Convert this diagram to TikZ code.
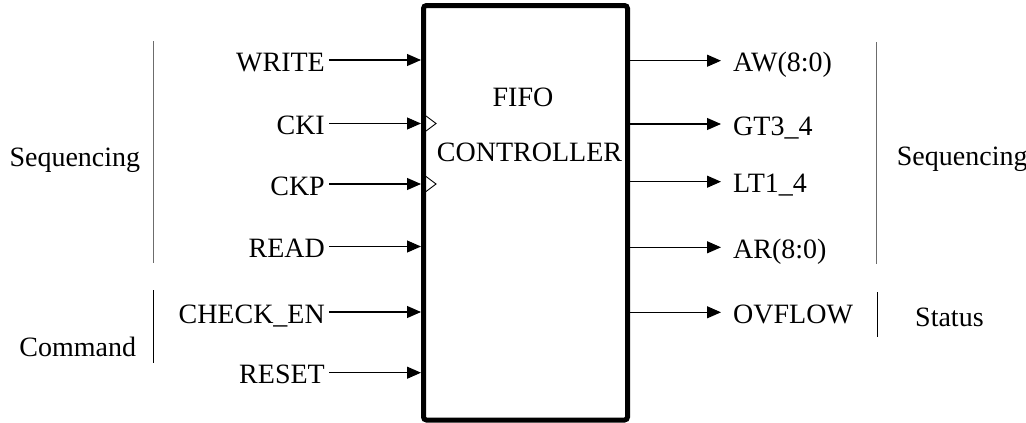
\documentclass[tikz,border=0pt]{standalone}
\usepackage{fontspec}
\setmainfont{Liberation Serif}
\usetikzlibrary{arrows.meta,calc}
\begin{document}
\begin{tikzpicture}[x=1pt,y=-1pt,
  every node/.style={font=\fontsize{28}{33}\selectfont},
  inlbl/.style={anchor=east, inner xsep=4pt, inner ysep=0pt, text height=22pt, text depth=0pt},
  outlbl/.style={anchor=west, inner xsep=0pt, inner ysep=0pt, text height=22pt, text depth=0pt},
  grplbl/.style={anchor=base west, inner sep=0pt},
  sig/.style={line width=1.1pt, -{Triangle[length=14pt,width=12pt]}},
  clk/.style={line width=0.9pt},
  brace/.style={line width=1pt},
  greybrace/.style={line width=1.4pt, gray!85!black}
]
\useasboundingbox (0,0) rectangle (1026,423);
% main box
\node[draw, line width=5pt, rounded corners=3pt, inner sep=0pt,
      minimum width=204pt, minimum height=414.5pt] (ctrl) at (525.5,212.75) {};
\node[anchor=base, inner sep=0pt] (fifo) at (523,106) {FIFO};
\node[anchor=base, inner sep=0pt] (ctrltxt) at (529.5,161.7) {CONTROLLER};

% inputs
\node[inlbl] (write) at (329,60) {WRITE};
\node[inlbl] (cki) at (329,123.5) {CKI};
\node[inlbl] (ckp) at (329,184) {CKP};
\node[inlbl] (read) at (329,246.5) {READ};
\node[inlbl] (chk) at (329,312) {CHECK\_EN};
\node[inlbl] (rst) at (329,372.7) {RESET};
\foreach \n in {write,cki,ckp,read,chk,rst}
  \draw[sig] (\n.east) -- (\n.east -| ctrl.west);

% clock markers
\foreach \n in {cki,ckp}
  \draw[clk] ($(ctrl.west |- \n.east)+(5,-7.5)$) -- ++(10,7.5) -- ++(-10,7.5);

% outputs
\node[outlbl] (aw) at (733,60.7) {AW(8:0)};
\node[outlbl] (gt) at (733,124) {GT3\_4};
\node[outlbl] (lt) at (733,181.7) {LT1\_4};
\node[outlbl] (ar) at (733,247.3) {AR(8:0)};
\node[outlbl] (ovf) at (733,312.3) {OVFLOW};
\foreach \n in {aw,gt,lt,ar,ovf}
  \draw[sig] (ctrl.east |- \n.west) -- ([xshift=-12pt]\n.west);

% group labels and bars
\node[grplbl] (seql) at (9.3,166.7) {Sequencing};
\node[grplbl] (cmd) at (19.3,356) {Command};
\node[grplbl] (seqr) at (896.7,165) {Sequencing};
\node[grplbl] (stat) at (915,326) {Status};
\coordinate (sl1) at (153.5,41); \coordinate (sl2) at (153.5,263);
\coordinate (cl1) at (153,290); \coordinate (cl2) at (153,363);
\coordinate (sr1) at (876.5,42); \coordinate (sr2) at (876.5,264);
\coordinate (st1) at (877.3,292); \coordinate (st2) at (877.3,337);
\draw[greybrace] (sl1) -- (sl2);
\draw[brace] (cl1) -- (cl2);
\draw[greybrace] (sr1) -- (sr2);
\draw[brace] (st1) -- (st2);
\end{tikzpicture}
\end{document}
